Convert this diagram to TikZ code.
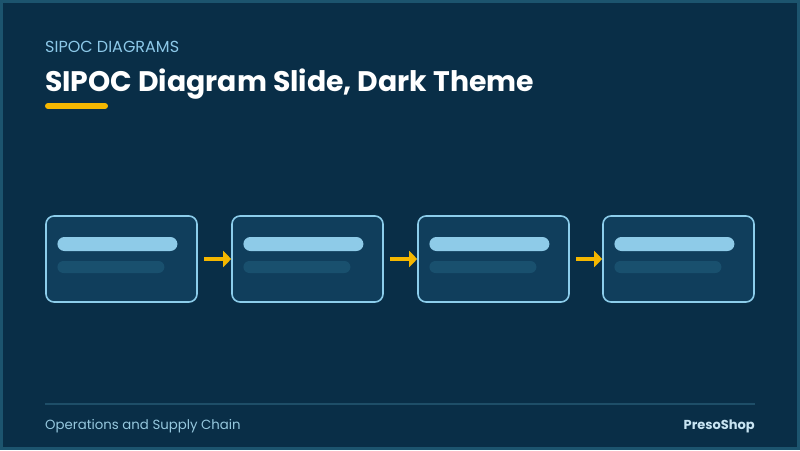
\documentclass[tikz,border=0pt]{standalone}
\usepackage{fontspec}
\setmainfont{Poppins}
\usepackage{xcolor}
\usetikzlibrary{arrows.meta, positioning, calc}

\definecolor{slidebg}{RGB}{9,46,71}
\definecolor{slideframe}{RGB}{28,84,110}
\definecolor{cardfill}{RGB}{16,62,92}
\definecolor{cardline}{RGB}{140,205,235}
\definecolor{barlight}{RGB}{142,203,232}
\definecolor{bardark}{RGB}{25,80,110}
\definecolor{accent}{RGB}{245,183,0}
\definecolor{kicker}{RGB}{140,200,232}
\definecolor{foottext}{RGB}{150,200,222}
\definecolor{brandtext}{RGB}{200,228,242}
\definecolor{footline}{RGB}{30,78,104}

\begin{document}
\begin{tikzpicture}[x=1pt,y=-1pt,
    card/.style={draw=cardline, line width=1.6pt, fill=cardfill, rounded corners=8pt,
      minimum width=151pt, minimum height=86pt, inner sep=0pt},
    barhi/.style={fill=barlight, rounded corners=7pt, inner sep=0pt,
      minimum width=120pt, minimum height=14pt},
    barlo/.style={fill=bardark, rounded corners=6pt, inner sep=0pt,
      minimum width=107pt, minimum height=12pt},
    flow/.style={draw=accent, line width=4.5pt, -{Triangle[length=8pt,width=16pt]}}]
    \useasboundingbox (0,0) rectangle (800,450);

    % Background
    \fill[slideframe] (0,0) rectangle (800,450);
    \fill[slidebg] (3,3) rectangle (797,447);

    % Heading
    \node[anchor=base west, inner sep=0pt, text=kicker, font=\fontsize{16}{18}\selectfont]
      (kick) at (45,52) {SIPOC DIAGRAMS};
    \node[anchor=base west, inner sep=0pt, text=white, font=\fontsize{28.3}{31}\selectfont\bfseries]
      (title) at (45,91) {SIPOC Diagram Slide, Dark Theme};
    \draw[accent, line width=6pt, line cap=round] (48,106) -- (105,106);

    % Cards
    \foreach \i/\x in {1/121.5,2/307.5,3/493.5,4/678.5} {
      \node[card] (c\i) at (\x,259) {};
      \node[barhi, anchor=west] (hi\i) at ($(c\i.west)+(12,-15)$) {};
      \node[barlo, anchor=west] (lo\i) at ($(c\i.west)+(12,8)$) {};
    }

    % Arrows
    \foreach \a/\b in {1/2,2/3,3/4}
    \draw[flow] ([xshift=6pt]c\a.east) -- (c\b.west);

    % Footer
    \draw[footline, line width=1.5pt] (45,404) -- (755,404);
    \node[anchor=base west, inner sep=0pt, text=foottext, font=\fontsize{13.3}{15}\selectfont]
      (topic) at (45,429) {Operations and Supply Chain};
    \node[anchor=base east, inner sep=0pt, text=brandtext, font=\fontsize{13}{15}\selectfont\bfseries]
      (brand) at (755,429) {PresoShop};
\end{tikzpicture}
\end{document}
